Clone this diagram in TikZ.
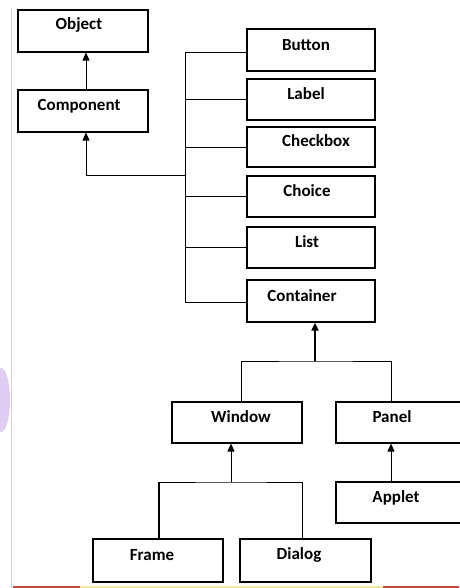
\documentclass[tikz,border=0pt]{standalone}
\usepackage{fontspec}
\setmainfont{Carlito}
\usetikzlibrary{arrows.meta}
\definecolor{wmviolet}{RGB}{222,204,242}
\definecolor{stripred}{RGB}{200,70,60}
\definecolor{stripyel}{RGB}{245,230,160}
\begin{document}
\begin{tikzpicture}[x=1pt,y=-1pt,
  box/.style={draw, line width=1.2pt, inner sep=0pt, fill=white},
  lbl/.style={font=\bfseries\fontsize{17}{17}\selectfont, inner sep=0pt},
  conn/.style={line width=0.9pt},
  thickconn/.style={line width=1.8pt},
  arr/.style={conn, -{Triangle[width=7pt,length=8pt]}},
  thickarr/.style={thickconn, -{Triangle[width=7pt,length=8pt]}}]
\useasboundingbox (0,0) rectangle (459,588);
% faint scan artifacts
\draw[gray!35, line width=0.8pt] (11.5,8) -- (11.5,588);
\fill[wmviolet] (1,400) ellipse [x radius=9, y radius=32];
\draw[stripred, line width=2pt] (13,587) -- (459,587);
\draw[stripyel, line width=2pt] (80,587) -- (383,587);
% boxes
\node[box, minimum width=130pt, minimum height=42pt] (obj)  at (83,31) {};
\node[box, minimum width=130pt, minimum height=42pt] (comp) at (83,111) {};
\node[box, minimum width=128pt, minimum height=42pt] (btn)  at (311,50) {};
\node[box, minimum width=128pt, minimum height=41pt] (lab)  at (311,99.5) {};
\node[box, minimum width=128pt, minimum height=40pt] (chk)  at (311,147) {};
\node[box, minimum width=128pt, minimum height=41pt] (cho)  at (311,196.5) {};
\node[box, minimum width=128pt, minimum height=41pt] (lst)  at (311,247.5) {};
\node[box, minimum width=128pt, minimum height=42pt] (cont) at (311,301) {};
\node[box, minimum width=130pt, minimum height=41pt] (win)  at (237,422.5) {};
\node[box, minimum width=140pt, minimum height=41pt] (pan)  at (406,422.5) {};
\node[box, minimum width=140pt, minimum height=41pt] (app)  at (406,502.5) {};
\node[box, minimum width=130pt, minimum height=43pt] (frm)  at (158,560.5) {};
\node[box, minimum width=131pt, minimum height=43pt] (dlg)  at (305.5,560.5) {};
% labels
\node[lbl] (tobj)  at (79,25)   {Object};
\node[lbl] (tcomp) at (79,106)  {Component};
\node[lbl] (tbtn)  at (306,45)  {Button};
\node[lbl] (tlab)  at (306,94)  {Label};
\node[lbl] (tchk)  at (316,141) {Checkbox};
\node[lbl] (tcho)  at (307,191) {Choice};
\node[lbl] (tlst)  at (307,242) {List};
\node[lbl] (tcont) at (302,296) {Container};
\node[lbl] (twin)  at (241,417) {Window};
\node[lbl] (tpan)  at (392,417) {Panel};
\node[lbl] (tapp)  at (396,498) {Applet};
\node[lbl] (tfrm)  at (152,555) {Frame};
\node[lbl] (tdlg)  at (299,555) {Dialog};
% junction points
\coordinate (tt) at (185,52);
\coordinate (tb) at (185,302);
\coordinate (cj) at (185,175);
\coordinate (kj) at (315,361);
\coordinate (wj) at (231,482);
\coordinate (fj) at (159,482);
% connectors
\draw[arr] ([xshift=3pt]comp.north) -- ([xshift=3pt]obj.south);
\draw[arr] (cj) -| ([xshift=3pt]comp.south);
\draw[conn] (tt) -- (tb);
\draw[conn] (tt) -- (btn.west |- tt);
\draw[conn] (lab.west) -- (lab.west -| tt);
\draw[conn] (chk.west) -- (chk.west -| tt);
\draw[conn] (cho.west) -- (cho.west -| tt);
\draw[conn] (lst.west) -- (lst.west -| tt);
\draw[conn] (tb) -- (cont.west |- tb);
\draw[thickarr] (kj) -- (kj |- cont.south);
\draw[conn] ([xshift=4pt]win.north) |- (kj) -| ([xshift=-15pt]pan.north);
\draw[arr] (wj) -- (wj |- win.south);
\draw[thickconn] (fj) -- (fj |- frm.north);
\draw[conn] (fj) -- (wj) -| ([xshift=-3.5pt]dlg.north);
\draw[arr] ([xshift=-15pt]app.north) -- ([xshift=-15pt]app.north |- pan.south);
\end{tikzpicture}
\end{document}
